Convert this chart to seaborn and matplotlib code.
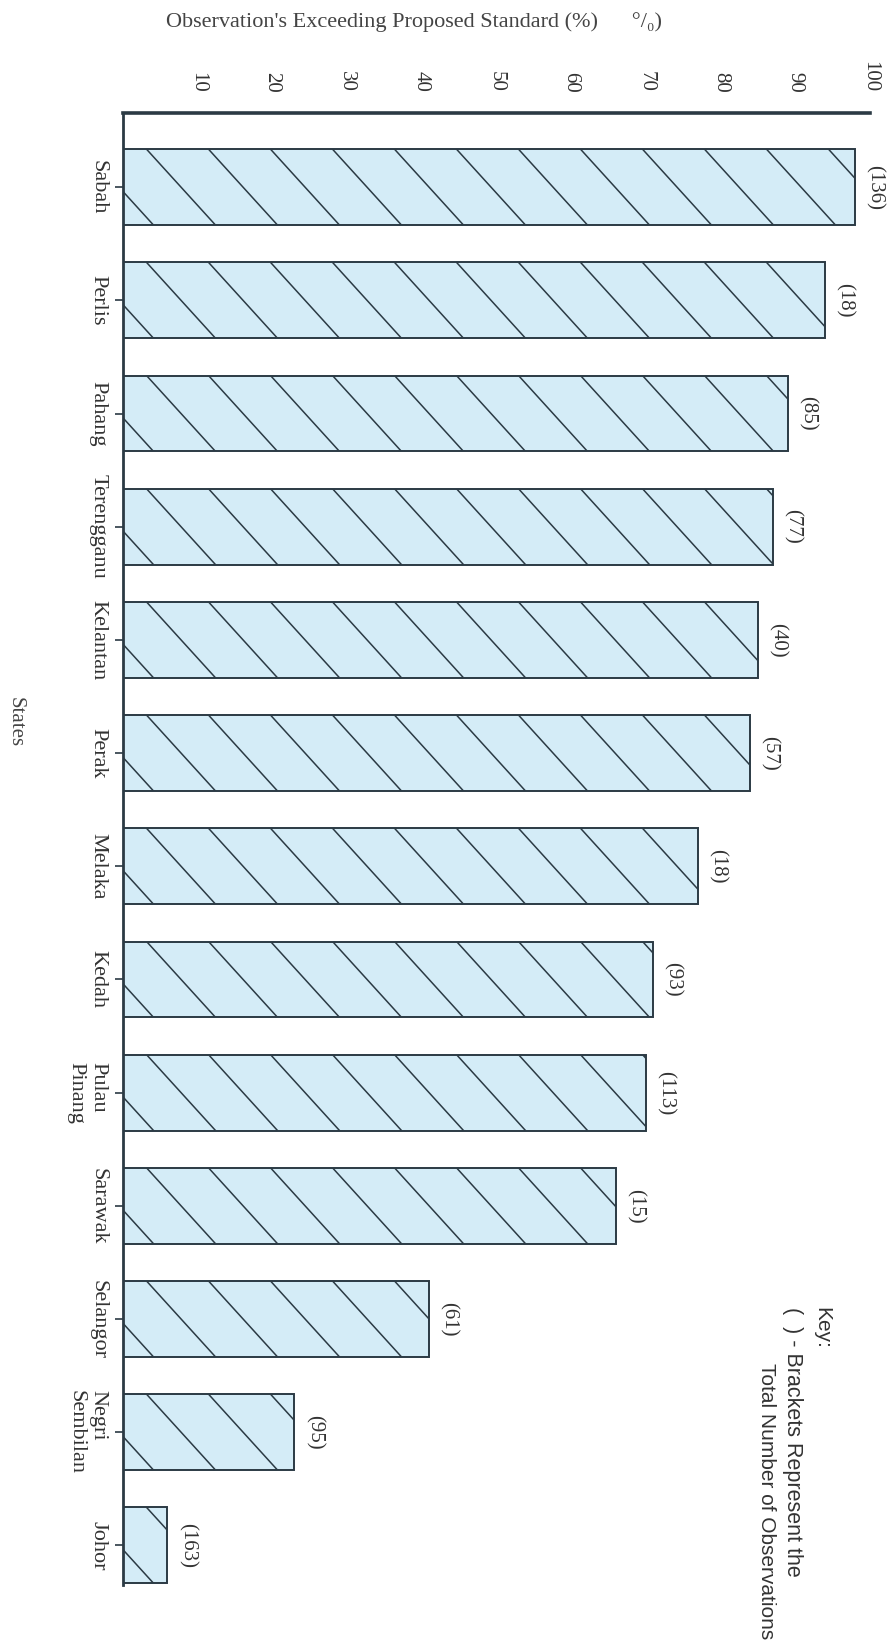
import numpy as np
import pandas as pd
import seaborn as sns
import matplotlib.pyplot as plt

# data (percent of observations above the proposed standard)
states = ["Sabah", "Perlis", "Pahang", "Terengganu", "Kelantan", "Perak", "Melaka",
          "Kedah", "Pulau\nPinang", "Sarawak", "Selangor", "Negri\nSembilan", "Johor"]
pct_exceeding = [98, 94, 89, 87, 85, 84, 77, 71, 70, 66, 41, 23, 6]
n_obs = [136, 18, 85, 77, 40, 57, 18, 93, 113, 15, 61, 95, 163]
x_ticks = [10, 20, 30, 40, 50, 60, 70, 80, 90, 100]

df = pd.DataFrame({'State': states, 'Pct': pct_exceeding, 'N': n_obs})

sns.set_style('white')
plt.rcParams['font.family'] = ['Liberation Serif', 'DejaVu Serif']

ink = '#2b3a44'
fill = '#d4ecf7'

fig = plt.figure(figsize=(8.95, 16.5), dpi=100)
ax = fig.add_axes([0.137, 0.0394, 0.835, 0.892])

sns.barplot(data=df, x='Pct', y='State', orient='h', color=fill, saturation=1,
            edgecolor=ink, linewidth=1.4, width=0.67, ax=ax)

ax.set_xlim(0, 100)
ax.set_ylim(12.35, -0.654)
ax.set_xlabel('')
ax.set_ylabel('')

# value axis on top, everything rotated like the printed page
ax.set_xticks(x_ticks)
ax.xaxis.set_ticks_position('top')
ax.tick_params(axis='x', top=True, bottom=False, labeltop=True, labelbottom=False,
               direction='out', length=7, width=1.5, color=ink, pad=8,
               labelsize=15, labelrotation=-90, labelcolor='#333333')
ax.tick_params(axis='y', left=True, direction='out', length=6, width=1.2, color=ink,
               pad=5, labelsize=16, labelrotation=-90, labelcolor='#333333')
for t in ax.get_yticklabels():
    t.set_va('center')
    t.set_multialignment('left')

sns.despine(ax=ax, top=False, right=True, bottom=True, left=False)
ax.spines['top'].set_linewidth(2.6)
ax.spines['left'].set_linewidth(2.0)
ax.spines['top'].set_color(ink)
ax.spines['left'].set_color(ink)

# sparse diagonal hatching, clipped to each bar
sx = ax.transData.transform((1, 0))[0] - ax.transData.transform((0, 0))[0]
sy = abs(ax.transData.transform((0, 1))[1] - ax.transData.transform((0, 0))[1])
gap = 62 / sx
for bar in ax.patches:
    x0, y0 = bar.get_x(), bar.get_y()
    w, h = bar.get_width(), bar.get_height()
    run = h * sy / 1.1 / sx
    for s in np.arange(x0 + 24 / sx - 3 * gap, x0 + w, gap):
        ln, = ax.plot([s, s + run], [y0, y0 + h], color=ink, lw=1.1, zorder=3)
        ln.set_clip_path(bar)

# bracketed number of observations next to every bar
for i, (v, n) in enumerate(zip(pct_exceeding, n_obs)):
    ax.annotate(f'({n})', xy=(v, i), xytext=(7, 0), textcoords='offset points',
                rotation=-90, ha='left', va='center', fontsize=15, color='#333333')

fig.text(166 / 895, 1 - 22 / 1650,
         "Observation's Exceeding Proposed Standard (%)      °/₀)",
         ha='left', va='center', fontsize=16, color='#444444')
fig.text(15 / 895, 1 - 722 / 1650, 'States', rotation=-90, ha='center', va='center',
         fontsize=15, color='#444444')

key_font = ['Liberation Sans', 'DejaVu Sans']
fig.text(822 / 895, 1 - 1307 / 1650, 'Key:', rotation=-90, rotation_mode='anchor',
         ha='left', va='center', fontsize=15, family=key_font, color='#333333')
fig.text(793 / 895, 1 - 1307 / 1650, '(  ) - Brackets Represent the', rotation=-90,
         rotation_mode='anchor', ha='left', va='center', fontsize=15.5, family=key_font,
         color='#333333')
fig.text(767 / 895, 1 - 1363 / 1650, 'Total Number of Observations', rotation=-90,
         rotation_mode='anchor', ha='left', va='center', fontsize=15, family=key_font,
         color='#333333')

fig.savefig('out.png', dpi=100)
